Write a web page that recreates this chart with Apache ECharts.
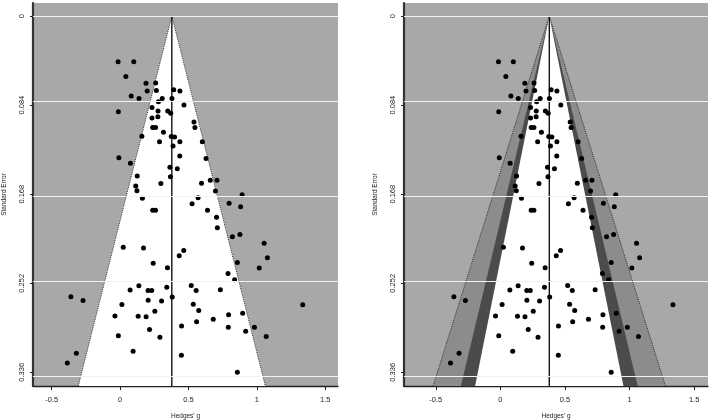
<!DOCTYPE html>
<html>
<head>
<meta charset="utf-8">
<script src="https://cdn.jsdelivr.net/npm/echarts@6.0.0/dist/echarts.min.js"></script>
<style>
    html, body { margin: 0; padding: 0; background: #fff; }
    #chart { width: 712px; height: 420px; }
</style>
</head>
<body>
<div id="chart"></div>
<script>
// study effects (Hedges' g) and their standard errors
var hedgesG = [
    -0.015, 0.100, 0.042, 0.189, 0.260, 0.198, 0.265, 0.392, 0.437, 0.081,
    0.138, 0.308, 0.379, 0.280, 0.467, 0.233, -0.013, 0.277, 0.348, 0.370,
    0.233, 0.276, 0.540, 0.547, 0.238, 0.259, 0.317, 0.159, 0.374, 0.398,
    0.288, 0.437, 0.601, 0.387, 0.436, -0.009, 0.628, 0.075, 0.364, 0.418,
    0.125, 0.368, 0.298, 0.595, 0.659, 0.708, 0.114, 0.123, 0.697, 0.892,
    0.163, 0.570, 0.526, 0.797, 0.881, 0.238, 0.259, 0.639, 0.705, 0.711,
    0.821, 0.876, 1.053, 0.023, 0.171, 0.465, 0.432, 1.077, 0.242, 0.857,
    0.346, 1.017, 0.789, 0.837, 0.137, 0.520, 0.073, 0.204, 0.231, 0.341,
    0.556, 0.733, -0.360, -0.271, 0.381, 0.205, 0.303, 0.013, 0.535, 1.335,
    0.575, 0.254, -0.038, 0.132, 0.190, 0.793, 0.896, 0.681, 0.559, 0.215,
    0.449, 0.791, 0.982, 0.918, -0.013, 0.291, 1.068, -0.320, 0.095, 0.448,
    -0.386, 0.857
];
var stdErr = [
    0.0431, 0.0431, 0.0570, 0.0633, 0.0632, 0.0708, 0.0703, 0.0696, 0.0708, 0.0755,
    0.0778, 0.0778, 0.0778, 0.0809, 0.0839, 0.0863, 0.0902, 0.0896, 0.0896, 0.0917,
    0.0962, 0.0950, 0.1000, 0.1050, 0.1050, 0.1050, 0.1097, 0.1134, 0.1136, 0.1141,
    0.1185, 0.1185, 0.1186, 0.1226, 0.1321, 0.1337, 0.1344, 0.1388, 0.1427, 0.1441,
    0.1509, 0.1516, 0.1580, 0.1578, 0.1549, 0.1549, 0.1603, 0.1647, 0.1650, 0.1686,
    0.1718, 0.1713, 0.1771, 0.1765, 0.1798, 0.1832, 0.1832, 0.1832, 0.1897, 0.1996,
    0.2081, 0.2060, 0.2142, 0.2181, 0.2188, 0.2212, 0.2260, 0.2280, 0.2332, 0.2324,
    0.2373, 0.2376, 0.2428, 0.2488, 0.2543, 0.2541, 0.2584, 0.2588, 0.2588, 0.2558,
    0.2588, 0.2582, 0.2647, 0.2683, 0.2650, 0.2680, 0.2687, 0.2720, 0.2719, 0.2722,
    0.2777, 0.2784, 0.2829, 0.2831, 0.2835, 0.2818, 0.2803, 0.2860, 0.2883, 0.2956,
    0.2923, 0.2935, 0.2935, 0.2973, 0.3015, 0.3030, 0.3022, 0.3181, 0.3161, 0.3199,
    0.3272, 0.3360
];
var seTicks = [0, 0.084, 0.168, 0.252, 0.336];
var gTicks = [-0.5, 0, 0.5, 1, 1.5];

var estimate = 0.378;          // pooled effect
var seRange = [-0.0123, 0.3489];
var gRangeLeft = [-0.637, 1.593];
var gRangeRight = [-0.746, 1.606];

// left: 95% funnel; right: contours 99 / 95 / 90 %
var leftZ = [1.96];
var leftFill = ['#ffffff'];
var rightZ = [2.576, 1.96, 1.645];
var rightFill = ['#8c8c8c', '#4b4b4b', '#ffffff'];

var font = 'Liberation Sans, Arial, sans-serif';
var seBottom = seRange[1];

function xAxisFor(k, range) {
    return {
        type: 'value', gridIndex: k, min: range[0], max: range[1],
        name: "Hedges' g", nameLocation: 'middle', nameGap: 27,
        nameTextStyle: { fontSize: 6.5, color: '#222', fontFamily: font },
        axisLine: { show: true, onZero: false, lineStyle: { color: '#222', width: 1.3 } },
        axisTick: { show: true, customValues: gTicks, length: 4, lineStyle: { color: '#222' } },
        axisLabel: { customValues: gTicks, fontSize: 7.5, margin: 10, color: '#222', fontFamily: font },
        splitLine: { show: false }
    };
}

function yAxisFor(k) {
    return {
        type: 'value', gridIndex: k, inverse: true, min: seRange[0], max: seRange[1],
        name: 'Standard Error', nameLocation: 'middle', nameGap: 25, nameRotate: 90,
        nameTextStyle: { fontSize: 6.5, color: '#222', fontFamily: font },
        axisLine: { show: true, onZero: false, lineStyle: { color: '#333', width: 2.2 } },
        axisTick: { show: true, customValues: seTicks, length: 3, lineStyle: { color: '#222' } },
        axisLabel: { customValues: seTicks, rotate: 90, fontSize: 7.5, margin: 7, color: '#222', fontFamily: font },
        splitLine: { show: false }
    };
}

function panelSeries(k, zs, fills, edges) {
    return [{
        // white reference lines behind the funnel
        type: 'line', xAxisIndex: k, yAxisIndex: k, data: [], z: 1, silent: true,
        markLine: {
            silent: true, symbol: 'none', animation: false,
            label: { show: false },
            lineStyle: { color: '#f2f2f2', width: 1, type: 'solid' },
            data: seTicks.map(function (v) { return { yAxis: v }; })
        }
    }, {
        type: 'custom', xAxisIndex: k, yAxisIndex: k, z: 2, silent: true,
        data: zs.map(function (z, i) { return [estimate, 0, i]; }),
        renderItem: function (params, api) {
            var i = api.value(2);
            var half = zs[i] * seBottom;
            var pts = [
                api.coord([estimate - half, seBottom]),
                api.coord([estimate, 0]),
                api.coord([estimate + half, seBottom])
            ];
            var kids = [{ type: 'polygon', shape: { points: pts }, style: { fill: fills[i] } }];
            if (edges[i]) {
                kids.push({
                    type: 'polyline', shape: { points: pts },
                    style: { fill: 'none', stroke: '#1a1a1a', lineWidth: 0.9, lineDash: [1, 1.2] }
                });
            }
            return { type: 'group', children: kids };
        }
    }, {
        type: 'line', xAxisIndex: k, yAxisIndex: k, z: 3, silent: true,
        showSymbol: false, symbol: 'none',
        lineStyle: { color: '#000', width: 1.3 },
        data: [[estimate, 0], [estimate, seBottom]]
    }, {
        type: 'scatter', xAxisIndex: k, yAxisIndex: k, z: 4,
        symbolSize: 5, itemStyle: { color: '#000', opacity: 1 },
        data: hedgesG.map(function (g, i) { return [g, stdErr[i]]; })
    }];
}

var chart = echarts.init(document.getElementById('chart'));
chart.setOption({
    animation: false,
    backgroundColor: '#fff',
    textStyle: { fontFamily: font },
    grid: [
        { left: 33, top: 3, width: 305, bottom: 34, show: true, backgroundColor: '#a8a8a8', borderWidth: 0,
          containLabel: false, outerBoundsMode: 'none' },
        { left: 404, top: 3, width: 304, bottom: 34, show: true, backgroundColor: '#a8a8a8', borderWidth: 0,
          containLabel: false, outerBoundsMode: 'none' }
    ],
    xAxis: [xAxisFor(0, gRangeLeft), xAxisFor(1, gRangeRight)],
    yAxis: [yAxisFor(0), yAxisFor(1)],
    series: panelSeries(0, leftZ, leftFill, [true])
        .concat(panelSeries(1, rightZ, rightFill, [true, false, false]))
});
</script>
</body>
</html>
